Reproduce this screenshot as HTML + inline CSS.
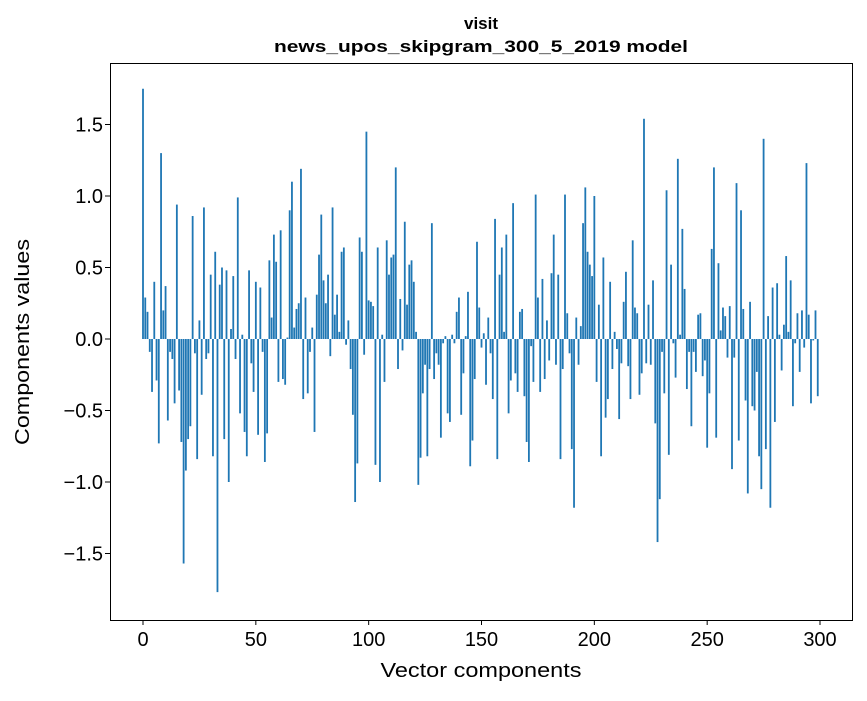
<!DOCTYPE html>
<html><head><meta charset="utf-8"><style>
body{margin:0;background:#fff;}
svg text{font-family:"Liberation Sans",Arial,sans-serif;fill:#000;}
</style></head><body>
<svg id="chart" width="867" height="696" xmlns="http://www.w3.org/2000/svg">
<rect width="867" height="696" fill="#fff"/>
<text x="481" y="29" text-anchor="middle" font-size="17" font-weight="bold">visit</text>
<text x="481" y="52" text-anchor="middle" font-size="17" font-weight="bold" textLength="414" lengthAdjust="spacingAndGlyphs">news_upos_skipgram_300_5_2019 model</text>
<g id="bars"></g>
<g id="xticks"></g>
<g id="yticks"></g>
<rect x="110.5" y="63.5" width="742" height="557" fill="none" stroke="#000" stroke-width="1"/>
<text x="481" y="677" text-anchor="middle" font-size="20" textLength="201" lengthAdjust="spacingAndGlyphs">Vector components</text>
<text transform="translate(29,342) rotate(-90)" text-anchor="middle" font-size="20" textLength="206" lengthAdjust="spacingAndGlyphs">Components values</text>
</svg>
<script>
const values = [1.75,0.29,0.19,-0.09,-0.37,0.40,-0.29,-0.73,1.30,0.20,0.37,-0.57,-0.09,-0.14,-0.45,0.94,-0.36,-0.72,-1.57,-0.92,-0.70,-0.61,0.86,-0.10,-0.84,0.13,-0.39,0.92,-0.14,-0.10,0.45,-0.82,0.61,-1.77,0.38,0.50,-0.70,0.48,-1.00,0.07,0.44,-0.14,0.99,-0.52,0.03,-0.65,-0.82,0.48,-0.17,-0.37,
0.40,-0.67,0.36,-0.09,-0.86,-0.66,0.55,0.15,0.73,0.54,-0.30,0.76,-0.28,-0.32,0.01,0.90,1.10,0.08,0.21,0.25,1.19,-0.42,0.29,-0.38,-0.09,0.08,-0.65,0.31,0.59,0.87,0.41,0.25,0.45,-0.12,0.92,0.17,0.31,0.05,0.61,0.64,-0.04,0.13,-0.21,-0.53,-1.14,-0.87,0.71,0.61,-0.11,1.45,
0.27,0.26,0.23,-0.88,0.64,-1.00,0.03,-0.30,0.69,0.45,0.57,0.59,1.20,-0.21,0.28,-0.08,0.82,0.24,0.52,0.55,0.40,0.05,-1.02,-0.83,-0.38,-0.18,-0.82,-0.21,0.81,-0.28,-0.10,-0.18,-0.69,-0.03,0.02,-0.52,-0.58,0.03,-0.03,0.19,0.29,-0.53,-0.24,0.02,0.33,-0.89,-0.71,-0.28,0.68,0.22,
-0.06,0.04,-0.32,0.15,-0.10,-0.42,0.84,-0.84,0.45,0.64,0.05,0.73,-0.52,-0.29,0.95,-0.24,-0.37,0.19,0.21,-0.40,-0.72,-0.86,-0.05,-0.30,1.01,0.29,-0.37,0.42,-0.28,0.13,-0.15,0.46,0.73,-0.18,0.45,-0.84,-0.21,1.01,0.18,-0.10,-0.77,-1.18,0.15,-0.18,0.09,0.81,1.06,0.61,0.52,0.44,
1.00,-0.30,0.24,-0.82,0.57,-0.55,-0.42,0.40,-0.21,0.05,-0.07,-0.56,-0.17,0.26,0.47,-0.19,-0.42,0.69,0.22,0.18,-0.39,-0.24,1.54,-0.17,0.24,-0.18,0.41,-0.59,-1.42,-1.12,-0.09,-0.38,1.04,-0.81,0.52,-0.03,-0.27,1.26,0.03,0.77,0.35,-0.35,-0.09,-0.61,-0.09,-0.23,0.17,0.18,-0.26,-0.15,
-0.76,-0.38,0.63,1.20,-0.69,0.53,0.06,0.22,0.16,-0.13,0.23,-0.91,-0.13,1.09,-0.71,0.90,0.21,-0.43,-1.08,0.26,-0.47,-0.50,-0.23,-0.82,-1.05,1.40,-0.77,0.16,-1.18,0.36,-0.58,0.39,0.03,-0.22,0.10,0.58,0.05,0.41,-0.47,-0.03,0.18,-0.23,0.20,-0.06,1.23,0.17,-0.45,-0.01,0.20,-0.40];
const xTicks = [0,50,100,150,200,250,300];
const yTicks = [-1.5,-1.0,-0.5,0.0,0.5,1.0,1.5];
const NS = "http://www.w3.org/2000/svg";
function xs(v){return 143 + v*2.2567;}
function ys(v){return 339 - v*143;}
const bars = document.getElementById('bars');
values.forEach((v,i)=>{
  const r = document.createElementNS(NS,'rect');
  const w = 0.8*2.2567;
  r.setAttribute('x', xs(i)-w/2);
  r.setAttribute('y', Math.min(ys(v), ys(0)));
  r.setAttribute('width', w);
  r.setAttribute('height', Math.abs(ys(v)-ys(0)));
  r.setAttribute('fill', '#1f77b4');
  
  
  bars.appendChild(r);
});
const xt = document.getElementById('xticks');
xTicks.forEach(t=>{
  const l = document.createElementNS(NS,'line');
  l.setAttribute('x1', xs(t)); l.setAttribute('x2', xs(t));
  l.setAttribute('y1', 620); l.setAttribute('y2', 625);
  l.setAttribute('stroke', '#000');
  
  
  xt.appendChild(l);
  const tx = document.createElementNS(NS,'text');
  tx.setAttribute('x', xs(t)); tx.setAttribute('y', 646);
  tx.setAttribute('text-anchor', 'middle'); tx.setAttribute('font-size', '20');
  tx.textContent = String(t);
  
  
  xt.appendChild(tx);
});
const yt = document.getElementById('yticks');
yTicks.forEach(t=>{
  const l = document.createElementNS(NS,'line');
  l.setAttribute('x1', 105); l.setAttribute('x2', 110);
  l.setAttribute('y1', ys(t)); l.setAttribute('y2', ys(t));
  l.setAttribute('stroke', '#000');
  
  
  yt.appendChild(l);
  const tx = document.createElementNS(NS,'text');
  tx.setAttribute('x', 103); tx.setAttribute('y', ys(t)+7);
  tx.setAttribute('text-anchor', 'end'); tx.setAttribute('font-size', '20');
  tx.textContent = (t<0?'\u2212':'') + Math.abs(t).toFixed(1);
  
  
  yt.appendChild(tx);
});
</script>
</body></html>
